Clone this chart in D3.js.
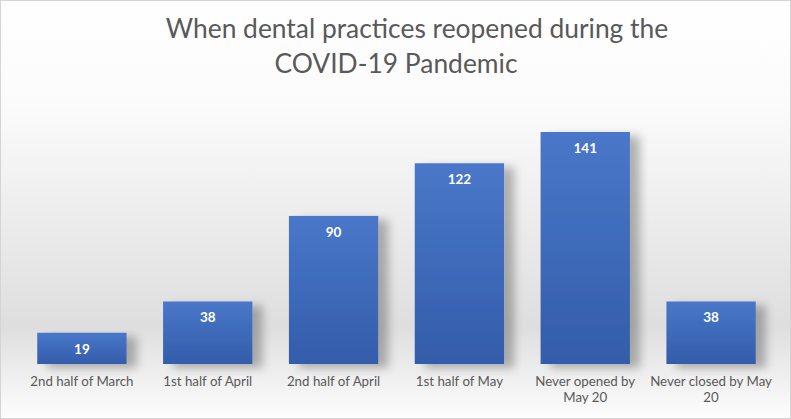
<!DOCTYPE html>
<html><head><meta charset="utf-8">
<script src="https://cdn.jsdelivr.net/npm/d3@7"></script>
<style>body{margin:0;background:#fff}svg{display:block}</style>
</head><body>
<script>
const categories = [["2nd half of March"],["1st half of April"],["2nd half of April"],["1st half of May"],["Never opened by","May 20"],["Never closed by May","20"]];
const values = [19, 38, 90, 122, 141, 38];
const titleLines = ["When dental practices reopened during the", "COVID-19 Pandemic"];

const W = 791, H = 419;
const svg = d3.select("body").append("svg").attr("width", W).attr("height", H);
const defs = svg.append("defs");
const bg = defs.append("linearGradient").attr("id","bg").attr("x1",0).attr("y1",0).attr("x2",0).attr("y2",1);
bg.append("stop").attr("offset","0%").attr("stop-color","#ffffff");
bg.append("stop").attr("offset","25%").attr("stop-color","#fbfbfb");
bg.append("stop").attr("offset","78%").attr("stop-color","#dedede");
bg.append("stop").attr("offset","100%").attr("stop-color","#fdfdfd");
const bar = defs.append("linearGradient").attr("id","bar").attr("x1",0).attr("y1",0).attr("x2",0).attr("y2",1);
bar.append("stop").attr("offset","0%").attr("stop-color","#4a77c9");
bar.append("stop").attr("offset","100%").attr("stop-color","#335daa");
const f = defs.append("filter").attr("id","sh").attr("x","-20%").attr("y","-20%").attr("width","160%").attr("height","160%");
f.append("feGaussianBlur").attr("in","SourceAlpha").attr("stdDeviation",5).attr("result","b");
f.append("feOffset").attr("in","b").attr("dx",10).attr("dy",4).attr("result","o");
f.append("feComponentTransfer").append("feFuncA").attr("type","linear").attr("slope",0.28);
const m = f.append("feMerge"); m.append("feMergeNode"); m.append("feMergeNode").attr("in","SourceGraphic");

svg.append("rect").attr("x",0.5).attr("y",0.5).attr("width",W-1).attr("height",H-1)
  .attr("fill","url(#bg)").attr("stroke","#d4d4d4").attr("stroke-width",1);

const x = d3.scaleBand().domain(d3.range(values.length)).range([19, 774]).paddingInner(0.29).paddingOuter(0.145);
const y = d3.scaleLinear().domain([0, 141]).range([364, 132]);

const g = svg.append("g");
g.selectAll("rect.bar").data(values).join("rect").attr("class","bar")
  .attr("x",(d,i)=>x(i)).attr("y",d=>y(d)).attr("width",x.bandwidth()).attr("height",d=>y(0)-y(d))
  .attr("fill","url(#bar)").attr("filter","url(#sh)");

g.selectAll("text.val").data(values).join("text").attr("class","val")
  .attr("x",(d,i)=>x(i)+x.bandwidth()/2).attr("y",d=>y(d)+21)
  .attr("text-anchor","middle").attr("fill","#ffffff").attr("font-family","Lato, sans-serif")
  .attr("font-weight","bold").attr("font-size",13.5).text(d=>d);

const lab = g.selectAll("text.cat").data(categories).join("text").attr("class","cat")
  .attr("x",(d,i)=>x(i)+x.bandwidth()/2).attr("y",386)
  .attr("text-anchor","middle").attr("fill","#595959").attr("font-family","Lato, sans-serif").attr("font-size",13.3);
lab.selectAll("tspan").data(d=>d).join("tspan")
  .attr("x",function(){return this.parentNode.getAttribute("x");})
  .attr("dy",(d,i)=>i?16:0).text(d=>d);

const tc = [417, 396];
svg.selectAll("text.title").data(titleLines).join("text").attr("class","title")
  .attr("x",(d,i)=>tc[i]).attr("y",(d,i)=>38+i*35).attr("text-anchor","middle")
  .attr("fill","#595959").attr("font-family","Lato, sans-serif").attr("font-size",26.4).text(d=>d);
</script>
</body></html>
